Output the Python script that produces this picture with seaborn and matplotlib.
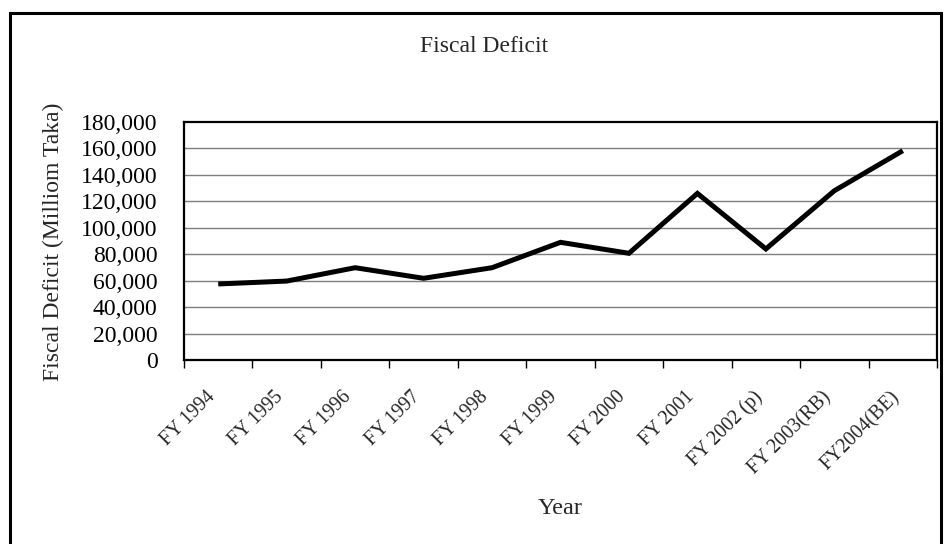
import matplotlib
matplotlib.use("Agg")
import matplotlib.pyplot as plt
import seaborn as sns
import pandas as pd
import numpy as np
from matplotlib.patches import Rectangle
from matplotlib.ticker import FuncFormatter, FixedLocator
from matplotlib.transforms import ScaledTranslation

# Fiscal deficit by fiscal year (million Taka)
years = ["FY 1994", "FY 1995", "FY 1996", "FY 1997", "FY 1998", "FY 1999",
         "FY 2000", "FY 2001", "FY 2002 (p)", "FY 2003(RB)", "FY2004(BE)"]
deficit = [57500, 59700, 69800, 61800, 69800, 89000,
           80700, 126000, 84000, 128000, 158300]
y_ticks = [0, 20000, 40000, 60000, 80000, 100000, 120000, 140000, 160000, 180000]

sns.set_theme(style="white")
plt.rcParams["font.family"] = ["Liberation Serif", "DejaVu Serif"]

df = pd.DataFrame({"pos": np.arange(len(years)), "deficit": deficit})

fig = plt.figure(figsize=(9.44, 5.44), dpi=100)
ax = fig.add_axes([184 / 944, 1 - 360 / 544, (937 - 184) / 944, (360 - 122) / 544])

sns.lineplot(data=df, x="pos", y="deficit", ax=ax, color="black",
             linewidth=3.6, solid_joinstyle="miter", solid_capstyle="butt")

ax.set_xlim(-0.5, len(years) - 0.5)
ax.set_ylim(0, 180000)

# gridlines at every y tick
ax.yaxis.set_major_locator(FixedLocator(y_ticks))
ax.yaxis.set_major_formatter(FuncFormatter(lambda v, p: f"{int(v):,}"))
for v in y_ticks[1:-1]:
    ax.axhline(v, color="#7f7f7f", linewidth=1.0, zorder=0)
ax.tick_params(axis="y", length=0, pad=19, labelsize=17, colors="black")

# category boundaries carry the tick marks, centres carry the labels
ax.set_xticks(np.arange(-0.5, len(years), 1.0))
ax.set_xticklabels([])
ax.set_xticks(np.arange(len(years)), minor=True)
ax.set_xticklabels(years, minor=True, rotation=45, ha="right",
                   rotation_mode="anchor", fontsize=14.2)
ax.tick_params(axis="x", which="major", direction="out", length=6,
               width=1, color="black", bottom=True)
ax.tick_params(axis="x", which="minor", length=0, pad=20)
shift = ScaledTranslation(-13 / 100, 0, fig.dpi_scale_trans)
for lbl in ax.get_xticklabels(minor=True):
    lbl.set_transform(lbl.get_transform() + shift)

for s in ax.spines.values():
    s.set_color("black")
    s.set_linewidth(1.6)

ax.set_xlabel("")
ax.set_ylabel("")

fig.text(560 / 944, 1 - 509 / 544, "Year", ha="center", va="center", fontsize=17.5)
fig.text(53 / 944, 1 - 242 / 544, "Fiscal Deficit (Milliom Taka)", rotation=90,
         ha="center", va="center", fontsize=17)
fig.text(484 / 944, 1 - 46 / 544, "Fiscal Deficit", ha="center", va="center",
         fontsize=17)

# outer chart frame
fig.patches.append(Rectangle((10 / 944, -0.05), (941 - 10) / 944, 1.05 - 13 / 544,
                             transform=fig.transFigure, fill=False,
                             edgecolor="black", linewidth=2.2))

fig.savefig("out.png", dpi=100, facecolor="white")
